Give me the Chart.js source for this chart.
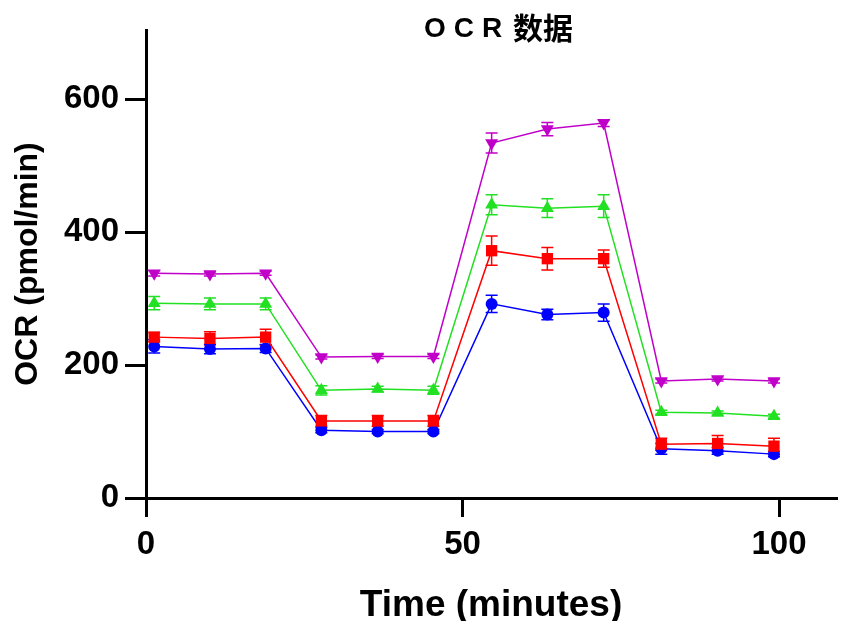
<!DOCTYPE html>
<html lang="zh">
<head>
<meta charset="UTF-8">
<title>OCR 数据</title>
<script src="https://cdn.jsdelivr.net/npm/chart.js"></script>
<style>
  html, body { margin: 0; padding: 0; background: #fff; }
  #wrap { width: 844px; height: 621px; }
</style>
</head>
<body>
<div id="wrap"><canvas id="ocr"></canvas></div>
<script>
// time points (minutes)
const times = [1.3, 10.1, 18.9, 27.7, 36.6, 45.4, 54.6, 63.4, 72.3, 81.4, 90.3, 99.2];

// mean OCR per group
const purpleMean = [338, 337, 338, 212, 213, 213, 534, 555, 564, 176, 179, 176];
const greenMean  = [293, 292, 292, 162, 164, 162, 441, 436, 439, 129, 128, 123];
const redMean    = [242, 240, 242, 116, 116, 116, 372, 360, 360, 81, 82, 78];
const blueMean   = [228, 224, 225, 102, 100, 100, 292, 276, 279, 74, 71, 66];

// error (SEM)
const purpleErr = [4, 3, 3, 3, 3, 3, 15, 10, 5, 3, 3, 3];
const greenErr  = [10, 9, 9, 7, 4, 6, 15, 14, 17, 3, 3, 3];
const redErr    = [7, 10, 12, 8, 8, 8, 22, 17, 13, 9, 12, 12];
const blueErr   = [10, 7, 6, 4, 3, 3, 13, 8, 13, 8, 5, 4];

const xTicks = [0, 50, 100];
const yTicks = [0, 200, 400, 600];

const FONT = '"Liberation Sans", Arial, sans-serif';

function pts(means, errs) {
  return means.map((v, i) => ({ x: times[i], y: v, err: errs[i] }));
}

const errorBars = {
  id: 'errorBars',
  beforeDatasetsDraw(chart) {
    const ctx = chart.ctx;
    const xs = chart.scales.x, ys = chart.scales.y;
    chart.data.datasets.forEach(ds => {
      ctx.save();
      ctx.strokeStyle = ds.borderColor;
      ctx.lineWidth = 1.5;
      ds.data.forEach(p => {
        const px = xs.getPixelForValue(p.x);
        const top = ys.getPixelForValue(p.y + p.err);
        const bot = ys.getPixelForValue(p.y - p.err);
        ctx.beginPath();
        ctx.moveTo(px, top); ctx.lineTo(px, bot);
        ctx.moveTo(px - 6, top); ctx.lineTo(px + 6, top);
        ctx.moveTo(px - 6, bot); ctx.lineTo(px + 6, bot);
        ctx.stroke();
      });
      ctx.restore();
    });
  }
};

// chart title sits inside the top padding, spaced-out latin part
const titleText = {
  id: 'titleText',
  afterDraw(chart) {
    const ctx = chart.ctx;
    const a = chart.chartArea;
    const cx = (a.left + a.right) / 2;
    ctx.save();
    ctx.fillStyle = '#000';
    ctx.textAlign = 'left';
    ctx.textBaseline = 'middle';
    ctx.font = 'bold 28px ' + FONT;
    if ('letterSpacing' in ctx) ctx.letterSpacing = '8px';
    ctx.fillText('OCR', cx - 67, 29);
    if ('letterSpacing' in ctx) ctx.letterSpacing = '0px';
    ctx.font = 'bold 30px "Noto Sans CJK SC", sans-serif';
    ctx.fillText('数据', cx + 22, 28);
    ctx.restore();
  }
};

function ds(label, data, color, style, radius, rotation) {
  return {
    label: label,
    data: data,
    borderColor: color,
    backgroundColor: color,
    borderWidth: 1.5,
    pointStyle: style,
    pointRotation: rotation || 0,
    pointRadius: radius,
    pointBorderWidth: 0,
    tension: 0
  };
}

new Chart(document.getElementById('ocr'), {
  type: 'line',
  data: {
    datasets: [
      ds('Group 4', pts(purpleMean, purpleErr), '#c000c8', 'triangle', 7.5, 180),
      ds('Group 3', pts(greenMean, greenErr), '#22e022', 'triangle', 7.5),
      ds('Group 2', pts(redMean, redErr), '#ff0000', 'rect', 8),
      ds('Group 1', pts(blueMean, blueErr), '#0000ff', 'circle', 6)
    ]
  },
  options: {
    responsive: true,
    maintainAspectRatio: false,
    animation: false,
    layout: { padding: { top: 30, right: 4, left: 0, bottom: 0 } },
    plugins: { legend: { display: false }, tooltip: { enabled: false } },
    scales: {
      x: {
        type: 'linear',
        min: 0,
        max: 109,
        afterBuildTicks: s => { s.ticks = xTicks.map(v => ({ value: v })); },
        afterFit: s => { s.height = 123; },
        border: { display: true, color: '#000', width: 3 },
        grid: { display: true, drawOnChartArea: false, color: '#000', lineWidth: 3, tickLength: 19 },
        ticks: {
          color: '#000',
          padding: 8,
          maxRotation: 0,
          font: { family: FONT, size: 33, weight: 'bold' }
        },
        title: {
          display: true,
          text: 'Time (minutes)',
          color: '#000',
          padding: { top: 0, bottom: -7 },
          font: { family: FONT, size: 37, weight: 'bold' }
        }
      },
      y: {
        type: 'linear',
        min: 0,
        max: 704,
        afterBuildTicks: s => { s.ticks = yTicks.map(v => ({ value: v })); },
        afterFit: s => { s.width = 146; },
        border: { display: true, color: '#000', width: 3 },
        grid: { display: true, drawOnChartArea: false, color: '#000', lineWidth: 3, tickLength: 21 },
        ticks: {
          color: '#000',
          padding: 6,
          font: { family: FONT, size: 33, weight: 'bold' }
        },
        title: {
          display: true,
          text: 'OCR (pmol/min)',
          color: '#000',
          padding: { top: 9, bottom: 0 },
          font: { family: FONT, size: 32, weight: 'bold' }
        }
      }
    }
  },
  plugins: [errorBars, titleText]
});
</script>
</body>
</html>
